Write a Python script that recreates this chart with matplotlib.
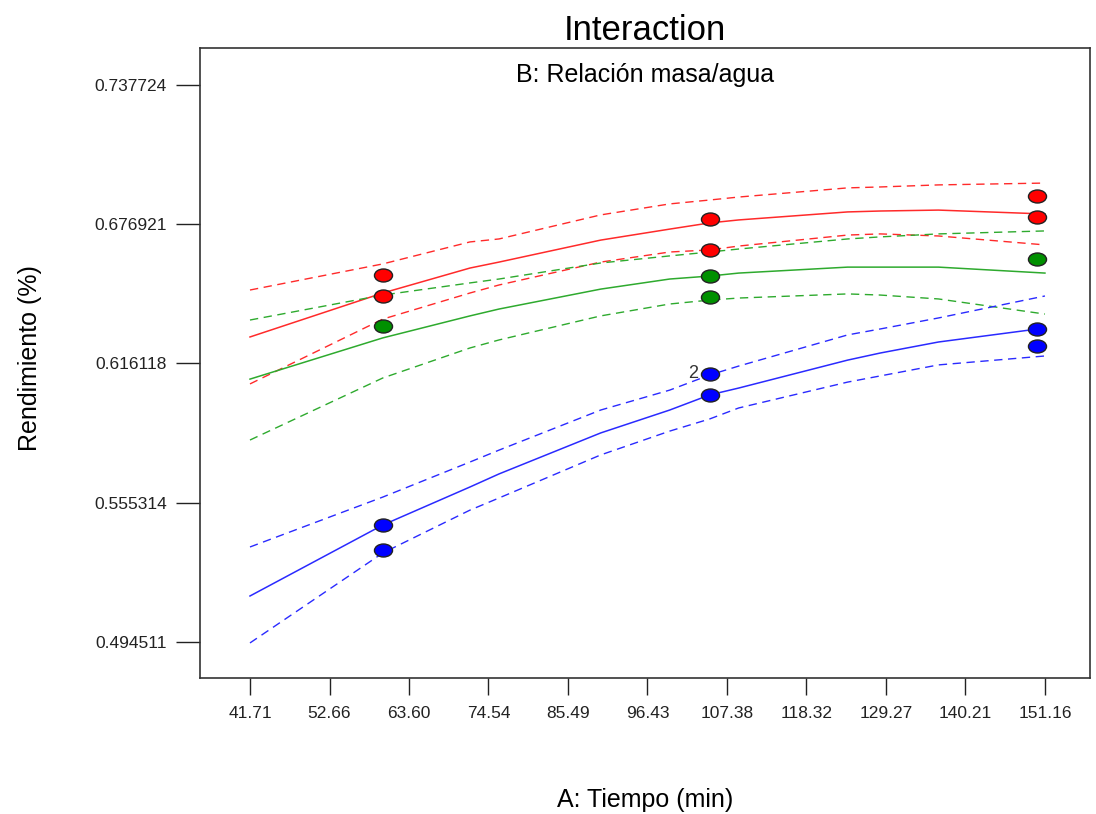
import matplotlib
matplotlib.use("Agg")
import matplotlib.pyplot as plt
from matplotlib.path import Path
from matplotlib.transforms import Affine2D

plt.rcParams["font.family"] = ["Liberation Sans", "DejaVu Sans"]

# A: Tiempo (min) positions where the curves were read
tiempo = [41.71, 60, 72, 76, 90, 99.5, 105, 109, 124, 128.5, 136.5, 151.16]

# B high (red): prediction and 95% band
rojo_sup = [0.6482, 0.6596, 0.6692, 0.6705, 0.6810, 0.6858, 0.6875, 0.6888, 0.6928, 0.6932, 0.6941, 0.6949]
rojo = [0.6277, 0.6469, 0.6578, 0.6604, 0.6700, 0.6748, 0.6775, 0.6788, 0.6823, 0.6827, 0.6831, 0.6814]
rojo_inf = [0.6072, 0.6355, 0.6469, 0.6504, 0.6604, 0.6648, 0.6657, 0.6674, 0.6722, 0.6727, 0.6718, 0.6679]

# B center (green)
verde_sup = [0.6351, 0.6460, 0.6513, 0.6530, 0.6600, 0.6631, 0.6648, 0.6661, 0.6705, 0.6714, 0.6727, 0.6740]
verde = [0.6093, 0.6273, 0.6369, 0.6399, 0.6486, 0.6530, 0.6543, 0.6556, 0.6582, 0.6582, 0.6582, 0.6556]
verde_inf = [0.5827, 0.6098, 0.6229, 0.6264, 0.6369, 0.6421, 0.6438, 0.6447, 0.6465, 0.6460, 0.6443, 0.6377]

# B low (blue)
azul_sup = [0.5360, 0.5578, 0.5731, 0.5783, 0.5958, 0.6045, 0.6111, 0.6150, 0.6286, 0.6312, 0.6360, 0.6456]
azul = [0.5146, 0.5456, 0.5622, 0.5679, 0.5858, 0.5958, 0.6024, 0.6054, 0.6176, 0.6207, 0.6255, 0.6316]
azul_inf = [0.4941, 0.5334, 0.5521, 0.5574, 0.5762, 0.5866, 0.5919, 0.5967, 0.6080, 0.6107, 0.6155, 0.6194]

# design points
rojo_px = [60, 60, 105, 105, 150, 150]
rojo_py = [0.6548, 0.6456, 0.6792, 0.6657, 0.6893, 0.6801]
verde_px = [60, 105, 105, 150]
verde_py = [0.6325, 0.6543, 0.6452, 0.6617]
azul_px = [60, 60, 105, 105, 150, 150]
azul_py = [0.5456, 0.5347, 0.6115, 0.6024, 0.6312, 0.6238]

xticks = [41.71, 52.66, 63.60, 74.54, 85.49, 96.43, 107.38, 118.32, 129.27, 140.21, 151.16]
yticks = [0.494511, 0.555314, 0.616118, 0.676921, 0.737724]

fig = plt.figure(figsize=(10.96, 8.14), dpi=100)
ax = fig.add_axes([0.1825, 0.1671, 0.812, 0.774])

# elliptic marker like Design-Expert
elipse = Path.unit_circle().transformed(Affine2D().scale(1.0, 0.72))

series = [
    (rojo_sup, rojo, rojo_inf, "#ff2a2a", rojo_px, rojo_py, "#ff0000"),
    (verde_sup, verde, verde_inf, "#2eaa2e", verde_px, verde_py, "#009000"),
    (azul_sup, azul, azul_inf, "#2a2aff", azul_px, azul_py, "#0000ff"),
]

for sup, fit, inf, col, px, py, mcol in series:
    ax.plot(tiempo, sup, color=col, lw=1.0, dashes=(6, 4))
    ax.plot(tiempo, fit, color=col, lw=1.1)
    ax.plot(tiempo, inf, color=col, lw=1.0, dashes=(6, 4))

for sup, fit, inf, col, px, py, mcol in series:
    ax.plot(px, py, linestyle="none", marker=elipse, markersize=13,
            markerfacecolor=mcol, markeredgecolor="#222222", markeredgewidth=1.0, zorder=5)

ax.annotate("2", (azul_px[2], azul_py[2]), xytext=(-12, 1), textcoords="offset pixels",
            ha="right", va="center", fontsize=13, color="#333333")

ax.set_xlim(34.83, 157.36)
ax.set_ylim(0.4788, 0.7539)

ax.set_xticks(xticks)
ax.set_xticklabels([f"{v:.2f}" for v in xticks], fontsize=12.5)
ax.set_yticks(yticks)
ax.set_yticklabels([f"{v:.6f}" for v in yticks], fontsize=12.5)
ax.tick_params(axis="y", length=17, width=1, pad=7, colors="#222222")
ax.tick_params(axis="x", length=12, width=1, pad=8, colors="#222222")

for s in ax.spines.values():
    s.set_color("#333333")
    s.set_linewidth(1.2)

ax.set_title("Interaction", fontsize=25, pad=6)
ax.text(0.5, 0.957, "B: Relación masa/agua", transform=ax.transAxes,
        ha="center", va="center", fontsize=18)

fig.text(645 / 1096, 1 - 800 / 814, "A: Tiempo (min)", ha="center", va="center", fontsize=18)
fig.text(30 / 1096, 1 - 358 / 814, "Rendimiento (%)", ha="center", va="center",
         rotation=90, fontsize=18)

fig.savefig("out.png", dpi=100)
